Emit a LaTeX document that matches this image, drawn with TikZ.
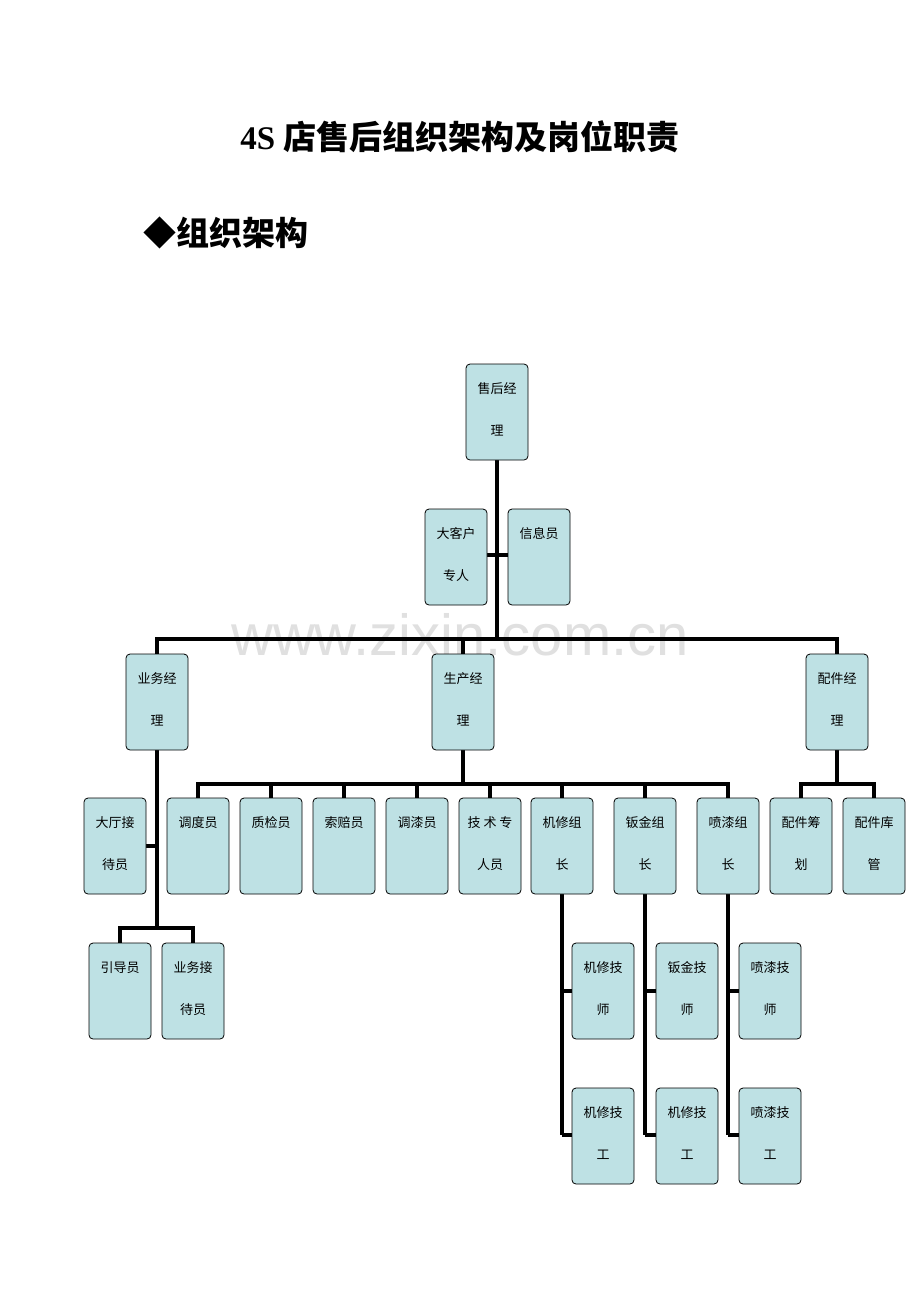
\documentclass[tikz,border=0pt]{standalone}
\usepackage{fontspec}
\setmainfont{Liberation Serif}
\newfontfamily\cjk{Noto Sans CJK SC}
\usetikzlibrary{positioning}
\definecolor{boxblue}{HTML}{BEE1E4}
\tikzset{
  orgbox/.style={draw=black, line width=0.8pt, fill=boxblue, rounded corners=4pt, minimum width=62pt, minimum height=96pt, inner sep=0pt},
  boxtext/.style={font=\cjk\fontsize{13}{13}\selectfont, inner sep=0pt},
  link/.style={line width=3.2pt, black}
}
% \orgbox{name}{left}{top}{line one}{line two}
\newcommand{\orgbox}[5]{%
  \node[orgbox] (#1) at (#2pt+31pt,-#3pt-48pt) {};
  \node[boxtext] (#1-a) at (#2pt+31pt,-#3pt-25pt) {#4};
  \node[boxtext] (#1-b) at (#2pt+31pt,-#3pt-67pt) {#5};
}
\begin{document}
\begin{tikzpicture}[x=1pt,y=1pt]
	\useasboundingbox (0,0) rectangle (920,-1302);
	\node (title) at (460,-137) {\fontsize{33}{33}\selectfont\bfseries 4S {\cjk 店售后组织架构及岗位职责}};
	\node[anchor=west] (sub) at (140,-233) {\cjk\fontsize{33}{33}\selectfont\bfseries ◆组织架构};
	\node (mark) at (460,-635) {\fontspec{Liberation Sans}\fontsize{58}{58}\selectfont\color{black!12}www.zixin.com.cn};

	% lines
	\coordinate (top) at (497,-460);
	\coordinate (bus1) at (497,-639);
	\draw[link] (top) -- (bus1);
	\draw[link] (487,-555) -- (508,-555);
	\draw[link] (157,-654) -- (157,-639) -- (837,-639) -- (837,-654);
	\draw[link] (463,-639) -- (463,-654);
	% sales
	\draw[link] (157,-750) -- (157,-928);
	\draw[link] (146,-846) -- (157,-846);
	\draw[link] (120,-943) -- (120,-928) -- (193,-928) -- (193,-943);
	% production
	\draw[link] (463,-750) -- (463,-784);
	\draw[link] (198,-798) -- (198,-784) -- (728,-784) -- (728,-798);
	\foreach \x in {271,344,417,490,562,645}
		\draw[link] (\x,-784) -- (\x,-798);
	\foreach \x/\r in {562/572,645/656,728/739} {
		\draw[link] (\x,-894) -- (\x,-1135);
		\draw[link] (\x,-991) -- (\r,-991);
		\draw[link] (\x,-1135) -- (\r,-1135);
	}
	% parts
	\draw[link] (837,-750) -- (837,-784);
	\draw[link] (801,-798) -- (801,-784) -- (874,-784) -- (874,-798);

	% boxes
	\orgbox{mgr}{466}{364}{售后经}{理}
	\orgbox{vip}{425}{509}{大客户}{专人}
	\orgbox{info}{508}{509}{信息员}{}
	\orgbox{biz}{126}{654}{业务经}{理}
	\orgbox{prod}{432}{654}{生产经}{理}
	\orgbox{parts}{806}{654}{配件经}{理}
	\orgbox{hall}{84}{798}{大厅接}{待员}
	\orgbox{disp}{167}{798}{调度员}{}
	\orgbox{qc}{240}{798}{质检员}{}
	\orgbox{claim}{313}{798}{索赔员}{}
	\orgbox{paintmix}{386}{798}{调漆员}{}
	\orgbox{tech}{459}{798}{技\ 术\ 专}{人员}
	\orgbox{mech}{531}{798}{机修组}{长}
	\orgbox{sheet}{614}{798}{钣金组}{长}
	\orgbox{spray}{697}{798}{喷漆组}{长}
	\orgbox{plan}{770}{798}{配件筹}{划}
	\orgbox{store}{843}{798}{配件库}{管}
	\orgbox{guide}{89}{943}{引导员}{}
	\orgbox{recep}{162}{943}{业务接}{待员}
	\orgbox{mechA}{572}{943}{机修技}{师}
	\orgbox{sheetA}{656}{943}{钣金技}{师}
	\orgbox{sprayA}{739}{943}{喷漆技}{师}
	\orgbox{mechB}{572}{1088}{机修技}{工}
	\orgbox{sheetB}{656}{1088}{机修技}{工}
	\orgbox{sprayB}{739}{1088}{喷漆技}{工}
\end{tikzpicture}
\end{document}
